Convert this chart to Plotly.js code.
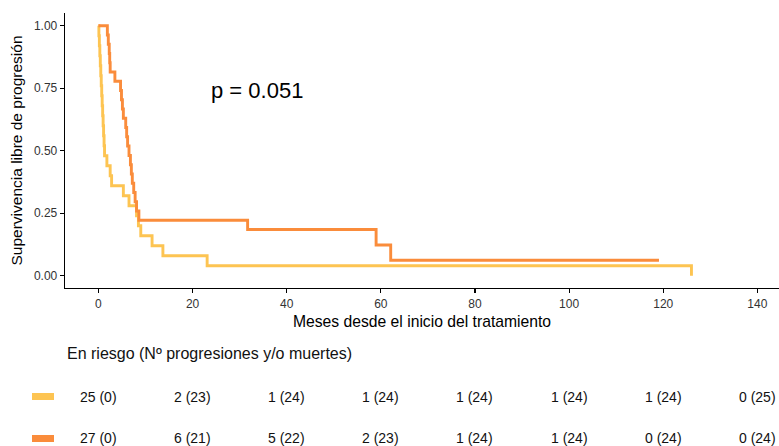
<!DOCTYPE html>
<html>
<head>
<meta charset="utf-8">
<script src="https://cdn.plot.ly/plotly-3.0.1.min.js"></script>
<style>html,body{margin:0;padding:0;background:#fff;}#chart{width:779px;height:446px;}</style>
</head>
<body>
<div id="chart"></div>
<script>
// Group 1 (yellow, n=25): step curve
var timeA = [0, 0.1, 0.2, 0.3, 0.4, 0.5, 0.6, 0.7, 0.8, 0.9, 1.0, 1.1, 1.2, 1.3, 1.8, 2.5, 2.8, 5.3, 6.5, 8.1, 8.5, 9.0, 11.4, 13.7, 23.1, 126.0];
var survA = [1.00, 0.96, 0.92, 0.88, 0.84, 0.80, 0.76, 0.72, 0.68, 0.64, 0.60, 0.56, 0.52, 0.48, 0.44, 0.40, 0.36, 0.32, 0.28, 0.24, 0.20, 0.16, 0.12, 0.08, 0.04, 0.00];
// Group 2 (orange, n=27): step curve
var timeB = [0, 1.9, 2.1, 2.3, 2.4, 2.5, 3.5, 4.7, 4.9, 5.1, 5.3, 5.8, 6.0, 6.2, 6.5, 6.8, 7.0, 7.2, 7.5, 7.8, 8.1, 8.6, 31.7, 59.0, 62.1, 119.1];
var survB = [1.000, 0.963, 0.926, 0.889, 0.852, 0.815, 0.778, 0.741, 0.704, 0.667, 0.630, 0.593, 0.556, 0.519, 0.481, 0.444, 0.407, 0.370, 0.333, 0.296, 0.259, 0.222, 0.185, 0.123, 0.062, 0.062];

// Risk table
var riskTimes = [0, 20, 40, 60, 80, 100, 120, 140];
var atRiskA = [25, 2, 1, 1, 1, 1, 1, 0];
var eventsA = [0, 23, 24, 24, 24, 24, 24, 25];
var atRiskB = [27, 6, 5, 2, 1, 1, 0, 0];
var eventsB = [0, 21, 22, 23, 24, 24, 24, 24];

var xTicks = [0, 20, 40, 60, 80, 100, 120, 140];
var yTicks = [0, 0.25, 0.5, 0.75, 1];
var yTickText = ['0.00', '0.25', '0.50', '0.75', '1.00'];

var colA = '#FDC452';
var colB = '#FA8C3B';
var FONT = 'Liberation Sans, Arial, Helvetica, sans-serif';

var traces = [
  {x: timeA, y: survA, type: 'scatter', mode: 'lines', line: {shape: 'hv', color: colA, width: 2.9}, hoverinfo: 'skip'},
  {x: timeB, y: survB, type: 'scatter', mode: 'lines', line: {shape: 'hv', color: colB, width: 2.9}, hoverinfo: 'skip'}
];

var plotTop = 13, plotBottom = 288, plotH = plotBottom - plotTop, plotLeft = 65, plotW = 779 - 65;
function py(pix) { return (plotBottom - pix) / plotH; }
function px(pix) { return (pix - plotLeft) / plotW; }

var annotations = [
  {text: 'p = 0.051', x: px(257), y: 0.741, xref: 'paper', yref: 'y', showarrow: false,
   font: {family: FONT, size: 22, color: '#000'}, xanchor: 'center', yanchor: 'middle'},
  {text: 'En riesgo (Nº progresiones y/o muertes)', x: 0, y: py(353), xref: 'paper', yref: 'paper',
   showarrow: false, xanchor: 'left', yanchor: 'middle', font: {family: FONT, size: 16, color: '#111'}}
];
for (var i = 0; i < riskTimes.length; i++) {
  annotations.push({text: atRiskA[i] + ' (' + eventsA[i] + ')', x: riskTimes[i], y: py(397), xref: 'x', yref: 'paper',
    showarrow: false, xanchor: 'center', yanchor: 'middle', font: {family: FONT, size: 14, color: '#111'}});
  annotations.push({text: atRiskB[i] + ' (' + eventsB[i] + ')', x: riskTimes[i], y: py(438), xref: 'x', yref: 'paper',
    showarrow: false, xanchor: 'center', yanchor: 'middle', font: {family: FONT, size: 14, color: '#111'}});
}

var shapes = [
  {type: 'rect', xref: 'paper', yref: 'paper', x0: px(32), x1: px(54), y0: py(400), y1: py(393), fillcolor: colA, line: {width: 0}},
  {type: 'rect', xref: 'paper', yref: 'paper', x0: px(32), x1: px(54), y0: py(442), y1: py(435), fillcolor: colB, line: {width: 0}}
];

var layout = {
  width: 779, height: 446,
  margin: {l: plotLeft, r: 0, t: plotTop, b: 446 - plotBottom, pad: 0},
  paper_bgcolor: '#fff', plot_bgcolor: '#fff',
  showlegend: false,
  font: {family: FONT, color: '#222'},
  xaxis: {
    range: [-7.1, 144.6], tickmode: 'array', tickvals: xTicks, ticktext: xTicks.map(String),
    showgrid: false, zeroline: false, showline: true, linecolor: '#000', linewidth: 1.3,
    ticks: 'outside', ticklen: 4, tickwidth: 1.1, tickcolor: '#000',
    tickfont: {family: FONT, size: 12, color: '#333'},
    title: {text: 'Meses desde el inicio del tratamiento', font: {family: FONT, size: 15.7, color: '#000'}, standoff: 6},
    fixedrange: true
  },
  yaxis: {
    range: [-0.049, 1.051], tickmode: 'array', tickvals: yTicks, ticktext: yTickText,
    showgrid: false, zeroline: false, showline: true, linecolor: '#000', linewidth: 1.3,
    ticks: 'outside', ticklen: 4, tickwidth: 1.1, tickcolor: '#000',
    tickfont: {family: FONT, size: 12, color: '#333'},
    title: {text: 'Supervivencia libre de progresión', font: {family: FONT, size: 15.5, color: '#000'}, standoff: 7},
    fixedrange: true
  },
  annotations: annotations,
  shapes: shapes
};

Plotly.newPlot('chart', traces, layout, {displayModeBar: false, staticPlot: true});
</script>
</body>
</html>
